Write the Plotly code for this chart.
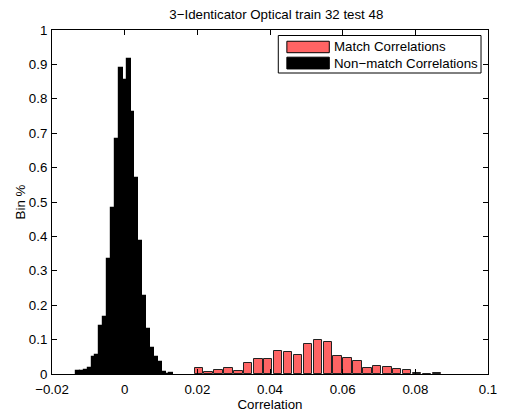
import plotly.graph_objects as go

# Non-match correlations (black histogram)
nonmatch_x = [-0.0128, -0.0117, -0.0107, -0.0096, -0.0085, -0.0075, -0.0064, -0.0053,
              -0.0043, -0.0032, -0.0021, -0.0011, 0.0000, 0.0011, 0.0021, 0.0032,
              0.0043, 0.0053, 0.0064, 0.0075, 0.0085, 0.0096, 0.0107, 0.0117, 0.0128]
nonmatch_y = [0.009, 0.008, 0.012, 0.018, 0.050, 0.055, 0.140, 0.167, 0.335, 0.484,
              0.682, 0.890, 0.856, 0.917, 0.763, 0.571, 0.387, 0.228, 0.132, 0.075,
              0.048, 0.035, 0.006, 0.0, 0.003]

# Match correlations (red histogram)
match_x = [0.0204, 0.0231, 0.0258, 0.0286, 0.0313, 0.0340, 0.0368, 0.0395, 0.0422,
           0.0450, 0.0477, 0.0504, 0.0532, 0.0559, 0.0586, 0.0613, 0.0641, 0.0668,
           0.0695, 0.0723, 0.0750, 0.0777, 0.0805, 0.0832, 0.0859]
match_y = [0.0165, 0.006, 0.012, 0.0165, 0.009, 0.031, 0.045, 0.043, 0.066, 0.063,
           0.055, 0.088, 0.099, 0.092, 0.051, 0.046, 0.037, 0.018, 0.023, 0.021,
           0.015, 0.012, 0.003, 0.0, 0.003]

x_ticks = [-0.02, 0, 0.02, 0.04, 0.06, 0.08, 0.1]
x_ticktext = ["\u22120.02", "0", "0.02", "0.04", "0.06", "0.08", "0.1"]
y_ticks = [0, 0.1, 0.2, 0.3, 0.4, 0.5, 0.6, 0.7, 0.8, 0.9, 1]
y_ticktext = ["0", "0.1", "0.2", "0.3", "0.4", "0.5", "0.6", "0.7", "0.8", "0.9", "1"]

RED = "#ff6464"
FONT = "Liberation Sans, Arial, Helvetica, sans-serif"
FS = 13.3

fig = go.Figure()
fig.add_trace(go.Bar(x=match_x, y=match_y, width=0.00232, name="Match Correlations",
                     marker=dict(color=RED, line=dict(color="#222222", width=1)),
                     showlegend=False))
fig.add_trace(go.Bar(x=nonmatch_x, y=nonmatch_y, width=0.00112, name="Non\u2212match Correlations",
                     marker=dict(color="black", line=dict(color="black", width=1.2)),
                     showlegend=False))

axis_common = dict(showline=True, linecolor="black", linewidth=1, mirror="ticks",
                   ticks="inside", ticklen=5, tickcolor="black", showgrid=False,
                   zeroline=False, tickfont=dict(size=FS, color="black", family=FONT))

fig.update_xaxes(range=[-0.02, 0.1], tickvals=x_ticks, ticktext=x_ticktext,
                 ticklabelstandoff=3,
                 title=dict(text="Correlation", font=dict(size=FS, color="black", family=FONT), standoff=3),
                 **axis_common)
fig.update_yaxes(range=[0, 1], tickvals=y_ticks, ticktext=y_ticktext,
                 ticklabelstandoff=1,
                 title=dict(text="Bin %", font=dict(size=FS, color="black", family=FONT), standoff=0),
                 **axis_common)

# Legend drawn manually to match the MATLAB style
shapes = [
    dict(type="rect", xref="paper", yref="paper", x0=0.519, x1=0.984, y0=0.984, y1=0.875,
         line=dict(color="black", width=1), fillcolor="white"),
    dict(type="rect", xref="paper", yref="paper", x0=0.5387, x1=0.636, y0=0.9673, y1=0.934,
         line=dict(color="black", width=1), fillcolor=RED),
    dict(type="rect", xref="paper", yref="paper", x0=0.5387, x1=0.636, y0=0.921, y1=0.8868,
         line=dict(color="black", width=1), fillcolor="black"),
]
annotations = [
    dict(text="Match Correlations", xref="paper", yref="paper", x=0.643, y=0.9508,
         xanchor="left", yanchor="middle", showarrow=False,
         font=dict(size=FS, color="black", family=FONT)),
    dict(text="Non\u2212match Correlations", xref="paper", yref="paper", x=0.643, y=0.9039,
         xanchor="left", yanchor="middle", showarrow=False,
         font=dict(size=FS, color="black", family=FONT)),
]

fig.update_layout(
    width=507, height=419,
    margin=dict(l=52, r=10, t=29.5, b=38),
    paper_bgcolor="white", plot_bgcolor="white",
    barmode="overlay", bargap=0,
    title=dict(text="3\u2212Identicator Optical train 32 test 48", x=0.545, xanchor="center",
               y=1 - 14 / 419, yanchor="middle",
               font=dict(size=FS, color="black", family=FONT)),
    shapes=shapes, annotations=annotations,
    showlegend=False,
)

fig.write_html("out.html")
